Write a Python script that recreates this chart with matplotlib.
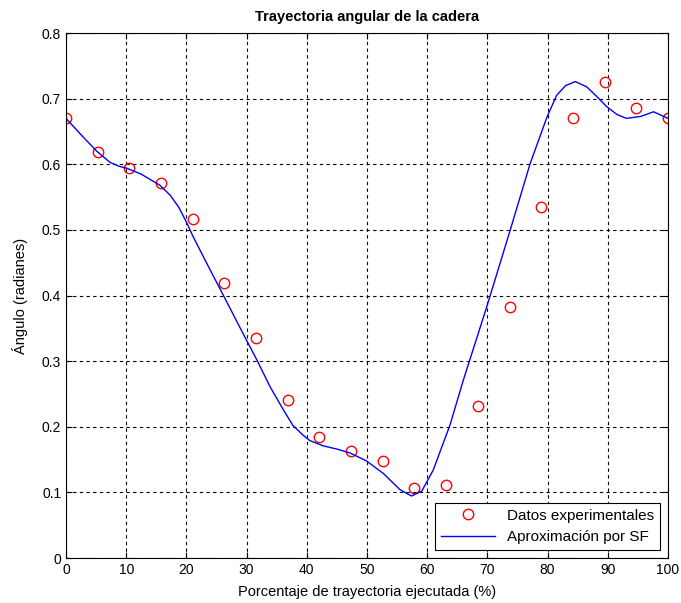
import matplotlib
matplotlib.use('Agg')
import matplotlib.pyplot as plt
import numpy as np

plt.rcParams['font.family'] = ['Liberation Sans', 'DejaVu Sans']

# Experimental data (20 equally spaced samples of the trajectory)
pctData = [0.0, 5.26, 10.53, 15.79, 21.05, 26.32, 31.58, 36.84, 42.11, 47.37,
           52.63, 57.89, 63.16, 68.42, 73.68, 78.95, 84.21, 89.47, 94.74, 100.0]
angleData = [0.670, 0.618, 0.594, 0.571, 0.516, 0.419, 0.336, 0.241, 0.184, 0.163,
             0.148, 0.107, 0.111, 0.231, 0.382, 0.535, 0.670, 0.725, 0.686, 0.670]

# Fourier series approximation
pctFit = [0.0, 2.5, 5.1, 7.3, 8.8, 10.1, 12.5, 15.6, 17.3, 18.7, 20.0, 21.1, 23.5,
          26.1, 29.7, 31.7, 33.9, 36.1, 37.7, 39.4, 40.5, 42.7, 45.0, 47.2, 49.9,
          52.7, 55.5, 57.4, 59.1, 61.0, 63.8, 66.0, 69.9, 73.8, 77.1, 79.9, 81.5,
          83.0, 84.6, 86.5, 88.2, 89.8, 91.5, 93.1, 95.5, 97.6, 100.0]
angleFit = [0.670, 0.645, 0.620, 0.603, 0.597, 0.594, 0.585, 0.568, 0.553, 0.535,
            0.512, 0.490, 0.447, 0.401, 0.337, 0.302, 0.261, 0.226, 0.202, 0.187,
            0.179, 0.171, 0.166, 0.160, 0.148, 0.129, 0.104, 0.0945, 0.102, 0.134,
            0.203, 0.271, 0.383, 0.500, 0.601, 0.672, 0.705, 0.720, 0.726, 0.718,
            0.703, 0.688, 0.676, 0.670, 0.673, 0.680, 0.670]

xTicks = list(range(0, 101, 10))
yTicks = [0, 0.1, 0.2, 0.3, 0.4, 0.5, 0.6, 0.7, 0.8]
yTickLabels = ['0', '0.1', '0.2', '0.3', '0.4', '0.5', '0.6', '0.7', '0.8']

fig = plt.figure(figsize=(6.81, 6.03), dpi=100)
ax = fig.add_axes([0.0969, 0.0746, 0.8840, 0.8706])

ax.plot(pctData, angleData, 'o', linestyle='none', markerfacecolor='none',
        markeredgecolor='red', markersize=7.5, markeredgewidth=1.0,
        label='Datos experimentales')
ax.plot(pctFit, angleFit, '-', color='blue', linewidth=1.0,
        label='Aproximación por SF')

ax.set_xlim(0, 100)
ax.set_ylim(0, 0.8)
ax.set_xticks(xTicks)
ax.set_yticks(yTicks)
ax.set_yticklabels(yTickLabels)
ax.tick_params(direction='in', top=True, right=True, labelsize=10, length=4)
ax.grid(True, color='black', linestyle=(0, (3, 3)), linewidth=0.8)
for s in ax.spines.values():
  s.set_linewidth(0.8)

ax.set_title('Trayectoria angular de la cadera', fontsize=10.5, fontweight='bold', pad=9)
ax.set_xlabel('Porcentaje de trayectoria ejecutada (%)', fontsize=10.5, labelpad=6)
ax.set_ylabel('Ángulo (radianes)', fontsize=10.5, labelpad=10)

leg = ax.legend(loc='lower right', fontsize=11, fancybox=False, framealpha=1,
                edgecolor='black', borderaxespad=0.5, handlelength=3.5)
leg.get_frame().set_linewidth(0.8)

fig.savefig('out.png', dpi=100)
